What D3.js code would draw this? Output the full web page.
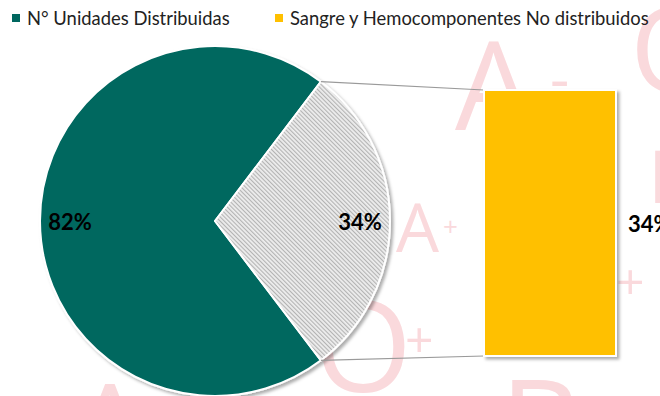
<!DOCTYPE html>
<html>
<head>
<meta charset="utf-8">
<script src="https://cdn.jsdelivr.net/npm/d3@7"></script>
<style>
  html, body { margin: 0; padding: 0; background: #ffffff; }
  svg { display: block; }
</style>
</head>
<body>
<svg id="chart" width="660" height="396"></svg>
<script>
// Series data
const categories = ["N° Unidades Distribuidas", "Sangre y Hemocomponentes No distribuidos"];
const pieValues = [82, 34];
const pieLabels = ["82%", "34%"];
const barValues = [34];
const barLabels = ["34%"];
const bgGlyphs = ["A", "-", "O", "A", "+", "O", "+", "+", "B", "A", "D"];

const W = 660, H = 396;
const svg = d3.select("#chart");
const defs = svg.append("defs");

// soft drop shadow used by the pie and the bar
const sh = defs.append("filter").attr("id", "shadow")
  .attr("x", "-10%").attr("y", "-10%").attr("width", "125%").attr("height", "125%");
sh.append("feDropShadow").attr("dx", 2.5).attr("dy", 2.5).attr("stdDeviation", 1.8)
  .attr("flood-color", "#000").attr("flood-opacity", 0.32);

// fine diagonal hatch for the split-off slice
const pat = defs.append("pattern").attr("id", "hatch")
  .attr("patternUnits", "userSpaceOnUse").attr("width", 3).attr("height", 3)
  .attr("patternTransform", "rotate(-45)");
pat.append("rect").attr("width", 3).attr("height", 3).attr("fill", "#ededed");
pat.append("rect").attr("width", 1.1).attr("height", 3).attr("fill", "#b3b3b3");

// faint background lettering
const bg = svg.append("g").attr("fill", "#fad9dc")
  .attr("font-family", "'Open Sans', sans-serif");
const glyphPos = [
  [455, 130, 122], [550, 100, 60], [630, 92, 118], [396, 252, 68], [443, 236, 26],
  [314, 392, 126], [405, 358, 50], [616, 300, 50], [500, 470, 126], [70, 475, 126], [648, 203, 74]
];
bg.selectAll("text").data(bgGlyphs).join("text")
  .attr("x", (d, i) => glyphPos[i][0])
  .attr("y", (d, i) => glyphPos[i][1])
  .attr("font-size", (d, i) => glyphPos[i][2])
  .text(d => d);

// Pie
const cx = 215, cy = 221, R = 175;
const total = d3.sum(pieValues);
const span = 2 * Math.PI * pieValues[1] / total;
const start = Math.PI / 2 + span / 2;
const pie = d3.pie().sort(null).startAngle(start).endAngle(start + 2 * Math.PI);
const arcs = pie(pieValues);
const arc = d3.arc().innerRadius(0).outerRadius(R);
const labelArc = d3.arc().innerRadius(145).outerRadius(145);
const fills = ["#00675F", "url(#hatch)"];

const pg = svg.append("g").attr("transform", `translate(${cx},${cy})`);
pg.append("g").attr("filter", "url(#shadow)")
  .selectAll("path").data(arcs).join("path")
  .attr("d", arc)
  .attr("fill", (d, i) => fills[i])
  .attr("stroke", "#ffffff").attr("stroke-width", 2).attr("stroke-linejoin", "round");

pg.selectAll("text.pl").data(arcs).join("text")
  .attr("class", "pl")
  .attr("x", d => labelArc.centroid(d)[0])
  .attr("y", d => labelArc.centroid(d)[1])
  .attr("text-anchor", "middle").attr("dominant-baseline", "central")
  .attr("font-family", "Lato, 'Open Sans', sans-serif").attr("font-weight", "bold")
  .attr("font-size", 22).attr("fill", "#000")
  .text((d, i) => pieLabels[i]);

// Bar
const x = d3.scaleBand().domain([categories[1]]).range([484, 616]).padding(0);
const y = d3.scaleLinear().domain([0, barValues[0]]).range([356, 90]);

// connector lines from the split slice to the bar
const a0 = arcs[1].startAngle, a1 = arcs[1].endAngle;
const p0 = [cx + R * Math.sin(a0), cy - R * Math.cos(a0)];
const p1 = [cx + R * Math.sin(a1), cy - R * Math.cos(a1)];
svg.append("g").attr("stroke", "#9a9a9a").attr("stroke-width", 1.2)
  .selectAll("line").data([[p0, [x(categories[1]), y(barValues[0])]], [p1, [x(categories[1]), y(0)]]])
  .join("line")
  .attr("x1", d => d[0][0]).attr("y1", d => d[0][1])
  .attr("x2", d => d[1][0]).attr("y2", d => d[1][1]);

const barG = svg.append("g").attr("filter", "url(#shadow)");
barG.selectAll("rect").data(barValues).join("rect")
  .attr("x", x(categories[1]))
  .attr("y", d => y(d))
  .attr("width", x.bandwidth())
  .attr("height", d => y(0) - y(d))
  .attr("fill", "#FFC000")
  .attr("stroke", "#ffffff").attr("stroke-width", 2);

svg.selectAll("text.bl").data(barValues).join("text")
  .attr("class", "bl")
  .attr("x", x(categories[1]) + x.bandwidth() + 12)
  .attr("y", d => (y(d) + y(0)) / 2)
  .attr("dominant-baseline", "central")
  .attr("font-family", "Lato, 'Open Sans', sans-serif").attr("font-weight", "bold")
  .attr("font-size", 22).attr("fill", "#000")
  .text((d, i) => barLabels[i]);

// Legend
const legendX = [12, 275];
const legendColors = ["#00675F", "#FFC000"];
const lg = svg.append("g").selectAll("g").data(categories).join("g")
  .attr("transform", (d, i) => `translate(${legendX[i]},0)`);
lg.append("rect").attr("x", 0).attr("y", 14).attr("width", 8).attr("height", 8)
  .attr("fill", (d, i) => legendColors[i]);
lg.append("text").attr("x", 15).attr("y", 24.5)
  .attr("font-family", "Lato, 'Open Sans', sans-serif").attr("font-size", 18.4)
  .attr("fill", "#222")
  .text(d => d);
</script>
</body>
</html>
